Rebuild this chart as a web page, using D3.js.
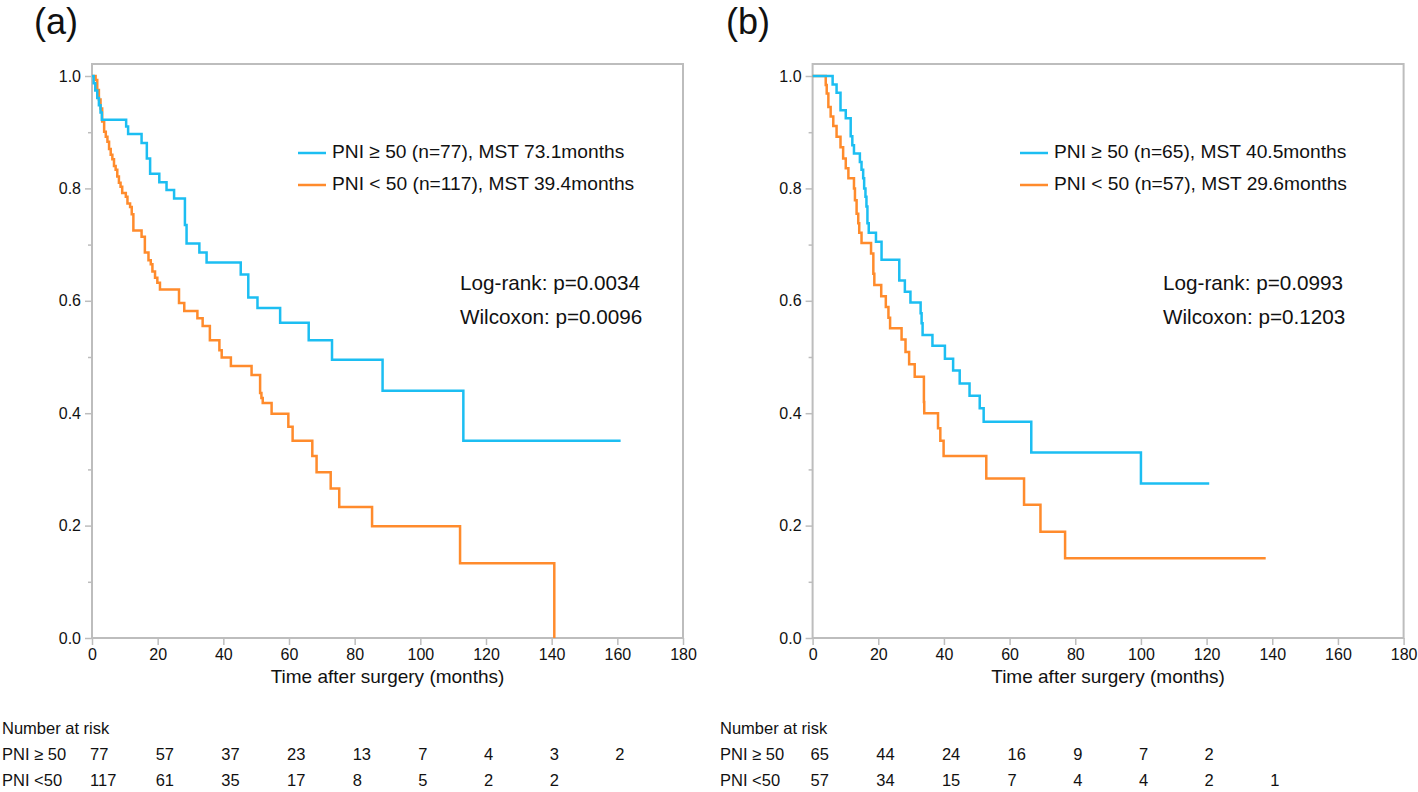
<!DOCTYPE html>
<html>
<head>
<meta charset="utf-8">
<script src="https://cdn.jsdelivr.net/npm/d3@7"></script>
<style>
  body { margin: 0; background: #fff; }
  text { font-family: "Liberation Sans", Arial, Helvetica, sans-serif; fill: #111; }
</style>
</head>
<body>
<svg id="chart" width="1418" height="792"></svg>
<script>
// ---- tick values ----
const xTicks = [0, 20, 40, 60, 80, 100, 120, 140, 160, 180];
const yTicks = [0, 0.1, 0.2, 0.3, 0.4, 0.5, 0.6, 0.7, 0.8, 0.9, 1.0];
const riskTimes = [0, 20, 40, 60, 80, 100, 120, 140, 160];

// ---- panel (a) curves: step times (months) and survival after each step ----
const aHighT = [0, 0.5, 1.0, 1.6, 2.1, 2.6, 3.0, 10.4, 11.0, 15.1, 16.7, 17.7, 20.5, 22.7, 25.0, 28.3, 28.8, 32.7, 34.9, 45.3, 47.6, 50.4, 57.3, 66.0, 73.1, 88.5, 113.1];
const aHighS = [1.0, 0.987, 0.974, 0.961, 0.948, 0.935, 0.922, 0.910, 0.897, 0.881, 0.853, 0.826, 0.811, 0.797, 0.782, 0.735, 0.702, 0.686, 0.668, 0.647, 0.606, 0.587, 0.561, 0.530, 0.495, 0.440, 0.351];
const aHighEnd = 161;
const aLowT = [0, 1.1, 1.6, 2.1, 2.6, 3.1, 3.7, 4.2, 4.7, 5.2, 5.7, 6.2, 6.7, 7.2, 7.7, 8.2, 8.7, 9.2, 10.3, 10.8, 11.6, 12.1, 12.6, 15.1, 16.1, 17.2, 17.9, 18.4, 19.2, 19.9, 20.7, 26.5, 28.1, 32.1, 33.7, 35.9, 38.8, 39.5, 42.3, 48.6, 51.2, 51.6, 52.0, 54.7, 59.8, 61.1, 67.1, 68.4, 72.7, 75.3, 85.3, 112.1, 140.8];
const aLowS = [1.0, 0.993, 0.975, 0.958, 0.942, 0.919, 0.901, 0.892, 0.883, 0.870, 0.860, 0.852, 0.840, 0.833, 0.821, 0.810, 0.803, 0.792, 0.785, 0.773, 0.767, 0.754, 0.725, 0.714, 0.686, 0.672, 0.665, 0.652, 0.641, 0.632, 0.620, 0.596, 0.582, 0.569, 0.555, 0.530, 0.512, 0.499, 0.484, 0.468, 0.436, 0.427, 0.418, 0.399, 0.376, 0.351, 0.324, 0.295, 0.266, 0.233, 0.199, 0.133, 0.0];
const aLowEnd = 140.8;

// ---- panel (b) curves ----
const bHighT = [0, 6.1, 7.3, 8.5, 10.1, 11.6, 12.1, 12.6, 14.4, 14.9, 15.4, 15.7, 16.1, 16.4, 16.7, 17.1, 19.3, 21.0, 26.4, 28.1, 29.8, 32.9, 33.2, 33.5, 36.5, 40.3, 42.8, 44.8, 47.8, 50.9, 52.1, 66.6, 100.0];
const bHighS = [1.0, 0.985, 0.970, 0.939, 0.925, 0.893, 0.877, 0.862, 0.847, 0.833, 0.818, 0.800, 0.785, 0.768, 0.738, 0.721, 0.705, 0.673, 0.636, 0.616, 0.597, 0.578, 0.560, 0.539, 0.520, 0.497, 0.476, 0.453, 0.431, 0.409, 0.385, 0.330, 0.275];
const bHighEnd = 120.8;
const bLowT = [0, 4.0, 4.3, 4.8, 5.5, 6.3, 7.3, 8.5, 9.3, 10.1, 10.9, 12.6, 12.9, 13.4, 13.9, 14.2, 14.9, 17.8, 18.5, 18.8, 20.9, 22.3, 23.1, 23.6, 27.1, 28.3, 29.4, 31.1, 33.9, 34.0, 38.2, 38.9, 39.9, 52.9, 64.4, 69.4, 76.9];
const bLowS = [1.0, 0.984, 0.969, 0.945, 0.928, 0.911, 0.892, 0.873, 0.853, 0.836, 0.818, 0.800, 0.779, 0.755, 0.738, 0.721, 0.703, 0.684, 0.648, 0.628, 0.608, 0.589, 0.570, 0.551, 0.531, 0.509, 0.487, 0.465, 0.420, 0.400, 0.373, 0.351, 0.324, 0.284, 0.237, 0.189, 0.142];
const bLowEnd = 138;

// ---- number at risk ----
const aRiskHigh = [77, 57, 37, 23, 13, 7, 4, 3, 2];
const aRiskLow = [117, 61, 35, 17, 8, 5, 2, 2];
const bRiskHigh = [65, 44, 24, 16, 9, 7, 2];
const bRiskLow = [57, 34, 15, 7, 4, 4, 2, 1];

// ---- texts ----
const aLegend = ["PNI \u2265 50 (n=77), MST 73.1months", "PNI < 50 (n=117), MST 39.4months"];
const bLegend = ["PNI \u2265 50 (n=65), MST 40.5months", "PNI < 50 (n=57), MST 29.6months"];
const aStats = ["Log-rank: p=0.0034", "Wilcoxon: p=0.0096"];
const bStats = ["Log-rank: p=0.0993", "Wilcoxon: p=0.1203"];
const rowLabels = ["PNI \u2265 50", "PNI <50"];

const BLUE = "#1cbef2";
const ORANGE = "#ff8b2c";
const GRID = "#bdbdbd";

const svg = d3.select("#chart");

function toPoints(ts, ss, end) {
    let pts = ts.map((t, i) => [t, ss[i]]);
    pts.push([end, ss[ss.length - 1]]);
    return pts;
}

/**
 * draws one KM panel
 */
function drawPanel(p) {
    const x = d3.scaleLinear().domain([0, 180]).range([p.left, p.left + 591]);
    const y = d3.scaleLinear().domain([0, 1]).range([638, 76]);
    const g = svg.append("g");

    // frame
    g.append("rect")
        .attr("x", p.left).attr("y", 64)
        .attr("width", 591).attr("height", 574)
        .attr("fill", "none").attr("stroke", GRID).attr("stroke-width", 2);

    // y axis
    const yAxis = g.append("g")
        .attr("transform", `translate(${p.left},0)`)
        .call(d3.axisLeft(y).tickValues(yTicks)
            .tickSizeOuter(0)
            .tickPadding(5)
            .tickFormat(d => (Math.round(d * 10) % 2 === 0) ? d.toFixed(1) : ""));
    yAxis.select(".domain").remove();
    yAxis.selectAll(".tick line")
        .attr("stroke", GRID).attr("stroke-width", 1.5)
        .attr("x2", d => (Math.round(d * 10) % 2 === 0) ? -7 : -4);
    yAxis.selectAll(".tick text").attr("x", -11).style("font-size", "16px").attr("fill", "#111");

    // x axis
    const xAxis = g.append("g")
        .attr("transform", "translate(0,638)")
        .call(d3.axisBottom(x).tickValues(xTicks).tickSizeInner(7).tickSizeOuter(0).tickPadding(4));
    xAxis.select(".domain").remove();
    xAxis.selectAll(".tick line").attr("stroke", GRID).attr("stroke-width", 1.5);
    xAxis.selectAll(".tick text").style("font-size", "16px").attr("fill", "#111");

    g.append("text")
        .attr("x", p.left + 295.5).attr("y", 678)
        .attr("text-anchor", "middle").attr("dominant-baseline", "middle")
        .style("font-size", "19px")
        .text("Time after surgery (months)");

    // curves
    const line = d3.line().x(d => x(d[0])).y(d => y(d[1])).curve(d3.curveStepAfter);
    g.append("path").datum(toPoints(p.lowT, p.lowS, p.lowEnd))
        .attr("d", line).attr("fill", "none").attr("stroke", ORANGE).attr("stroke-width", 2.5);
    g.append("path").datum(toPoints(p.highT, p.highS, p.highEnd))
        .attr("d", line).attr("fill", "none").attr("stroke", BLUE).attr("stroke-width", 2.5);

    // legend
    [BLUE, ORANGE].forEach((c, i) => {
        const ly = 153 + i * 32;
        g.append("line")
            .attr("x1", p.legX).attr("x2", p.legX + 28)
            .attr("y1", ly).attr("y2", ly)
            .attr("stroke", c).attr("stroke-width", 2.5);
        g.append("text")
            .attr("x", p.legX + 34).attr("y", ly)
            .attr("dominant-baseline", "middle")
            .style("font-size", "19.2px")
            .text(p.legend[i]);
    });

    // p values
    p.stats.forEach((s, i) => {
        g.append("text")
            .attr("x", p.statX).attr("y", 285 + i * 34)
            .attr("dominant-baseline", "middle")
            .style("font-size", "20.7px")
            .text(s);
    });

    // panel label
    g.append("text")
        .attr("x", p.labelX).attr("y", 24)
        .attr("text-anchor", "middle").attr("dominant-baseline", "middle")
        .style("font-size", "36px")
        .text(p.label);

    // number at risk table
    g.append("text")
        .attr("x", p.tableX).attr("y", 730)
        .attr("dominant-baseline", "middle").style("font-size", "16.5px")
        .text("Number at risk");
    [p.riskHigh, p.riskLow].forEach((row, r) => {
        const ry = 756 + r * 26;
        g.append("text")
            .attr("x", p.tableX).attr("y", ry)
            .attr("dominant-baseline", "middle").style("font-size", "16.5px")
            .text(rowLabels[r]);
        g.selectAll(null).data(row).enter()
            .append("text")
            .attr("x", (d, i) => x(riskTimes[i]) - 2)
            .attr("y", ry)
            .attr("dominant-baseline", "middle").style("font-size", "16.5px")
            .text(d => d);
    });
}

drawPanel({
    label: "(a)", labelX: 56, left: 92, legX: 298, statX: 460, tableX: 2,
    highT: aHighT, highS: aHighS, highEnd: aHighEnd,
    lowT: aLowT, lowS: aLowS, lowEnd: aLowEnd,
    legend: aLegend, stats: aStats, riskHigh: aRiskHigh, riskLow: aRiskLow
});
drawPanel({
    label: "(b)", labelX: 748, left: 812.6, legX: 1020, statX: 1163, tableX: 720,
    highT: bHighT, highS: bHighS, highEnd: bHighEnd,
    lowT: bLowT, lowS: bLowS, lowEnd: bLowEnd,
    legend: bLegend, stats: bStats, riskHigh: bRiskHigh, riskLow: bRiskLow
});
</script>
</body>
</html>
